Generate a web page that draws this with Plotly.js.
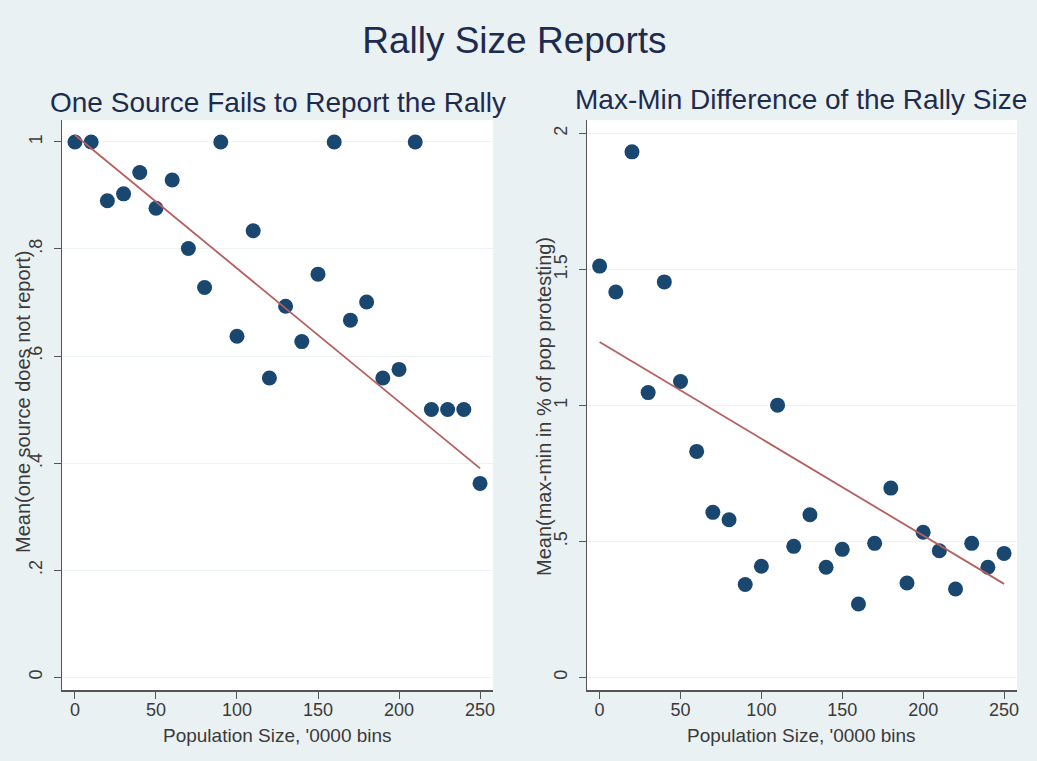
<!DOCTYPE html>
<html>
<head>
<meta charset="utf-8">
<script src="https://cdn.plot.ly/plotly-3.0.1.min.js"></script>
<style>html,body{margin:0;padding:0;background:#eaf1f3;}#chart{width:1037px;height:761px;}</style>
</head>
<body>
<div id="chart"></div>
<script>
// Data
const popBins = [0,10,20,30,40,50,60,70,80,90,100,110,120,130,140,150,160,170,180,190,200,210,220,230,240,250];
const oneSourceMissing = [1,1,0.89,0.903,0.943,0.876,0.929,0.801,0.728,1,0.637,0.834,0.559,0.693,0.627,0.753,1,0.667,0.701,0.559,0.575,1,0.5,0.5,0.5,0.362];
const maxMinDiff = [1.512,1.417,1.932,1.047,1.454,1.088,0.831,0.607,0.580,0.342,0.409,1.001,0.482,0.598,0.405,0.471,0.270,0.493,0.696,0.347,0.534,0.466,0.325,0.493,0.405,0.456];
const fitX = [0,250];
const fitLeftY = [1.013,0.39];
const fitRightY = [1.233,0.344];
const leftTickVals = [0,0.2,0.4,0.6,0.8,1];
const leftTickText = ['0','.2','.4','.6','.8','1'];
const rightTickVals = [0,0.5,1,1.5,2];
const rightTickText = ['0','.5','1','1.5','2'];
const xTickVals = [0,50,100,150,200,250];

const navy = '#1a476f';
const fitColor = '#b5605e';
const W = 1037, H = 761;
const FF = 'Liberation Sans, Arial, sans-serif';

const traces = [
  {x: popBins, y: oneSourceMissing, type:'scatter', mode:'markers', xaxis:'x', yaxis:'y',
   marker:{color:navy, size:15}, showlegend:false, cliponaxis:false},
  {x: fitX, y: fitLeftY, type:'scatter', mode:'lines', xaxis:'x', yaxis:'y',
   line:{color:fitColor, width:1.8}, showlegend:false},
  {x: popBins, y: maxMinDiff, type:'scatter', mode:'markers', xaxis:'x2', yaxis:'y2',
   marker:{color:navy, size:15}, showlegend:false, cliponaxis:false},
  {x: fitX, y: fitRightY, type:'scatter', mode:'lines', xaxis:'x2', yaxis:'y2',
   line:{color:fitColor, width:1.8}, showlegend:false}
];

const axBase = {
  showline:true, linecolor:'#555', linewidth:1.5, ticks:'outside', ticklen:7, tickcolor:'#555',
  zeroline:false, tickfont:{family:FF, size:18, color:'#3a3a3a'}
};
const yDom = [1-690/H, 1-120/H];

const layout = {
  width:W, height:H,
  paper_bgcolor:'#eaf1f3', plot_bgcolor:'#ffffff',
  margin:{l:0,r:0,t:0,b:0},
  font:{family:FF},
  title:{text:'Rally Size Reports', x:0.496, xanchor:'center', y:1-40/H, yanchor:'middle',
         font:{size:37, color:'#1d2b4f', family:FF}},
  xaxis: Object.assign({}, axBase, {domain:[62/W, 493/W], range:[-8,258], tickvals:xTickVals, showgrid:false,
          ticklabelstandoff:-4, anchor:'y'}),
  yaxis: Object.assign({}, axBase, {domain:yDom, range:[-0.024,1.041], tickvals:leftTickVals, ticktext:leftTickText,
          tickangle:-90, ticklabelstandoff:4, showgrid:true, gridcolor:'#eef4f5', gridwidth:1, anchor:'x'}),
  xaxis2: Object.assign({}, axBase, {domain:[587/W, 1017/W], range:[-7.8,258], tickvals:xTickVals, showgrid:false,
          ticklabelstandoff:-4, anchor:'y2'}),
  yaxis2: Object.assign({}, axBase, {domain:yDom, range:[-0.046,2.049], tickvals:rightTickVals, ticktext:rightTickText,
          tickangle:-90, ticklabelstandoff:4, showgrid:true, gridcolor:'#eef4f5', gridwidth:1, anchor:'x2'}),
  annotations:[
    {text:'One Source Fails to Report the Rally', xref:'paper', yref:'paper', x:278/W, y:1-102/H,
     xanchor:'center', yanchor:'middle', showarrow:false, font:{size:28, color:'#1d2b4f'}},
    {text:'Max-Min Difference of the Rally Size', xref:'paper', yref:'paper', x:801/W, y:1-100/H,
     xanchor:'center', yanchor:'middle', showarrow:false, font:{size:28, color:'#1d2b4f'}},
    {text:"Population Size, '0000 bins", xref:'paper', yref:'paper', x:277/W, y:1-735/H,
     xanchor:'center', yanchor:'middle', showarrow:false, font:{size:19, color:'#3a3a3a'}},
    {text:"Population Size, '0000 bins", xref:'paper', yref:'paper', x:801/W, y:1-735/H,
     xanchor:'center', yanchor:'middle', showarrow:false, font:{size:19, color:'#3a3a3a'}},
    {text:'Mean(one source does not report)', xref:'paper', yref:'paper', x:23/W, y:1-402/H,
     xanchor:'center', yanchor:'middle', textangle:-90, showarrow:false, font:{size:20, color:'#3a3a3a'}},
    {text:'Mean(max-min in % of pop protesting)', xref:'paper', yref:'paper', x:544/W, y:1-407/H,
     xanchor:'center', yanchor:'middle', textangle:-90, showarrow:false, font:{size:20, color:'#3a3a3a'}}
  ]
};

Plotly.newPlot('chart', traces, layout, {displayModeBar:false, staticPlot:true});
</script>
</body>
</html>
